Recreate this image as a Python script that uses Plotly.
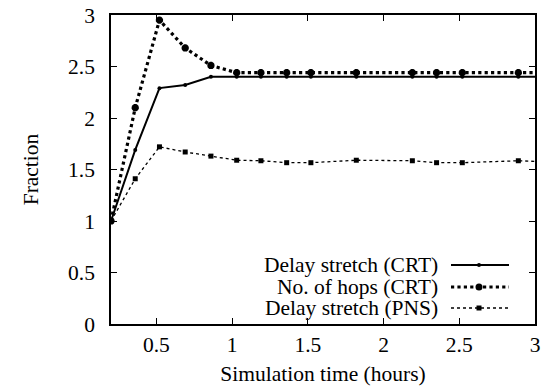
import plotly.graph_objects as go

# Data
time_h = [0.2, 0.36, 0.52, 0.69, 0.86, 1.03, 1.19, 1.36, 1.52, 1.82, 2.19, 2.35, 2.52, 2.89, 3.05]
delay_crt = [1.0, 1.69, 2.29, 2.32, 2.40, 2.40, 2.40, 2.40, 2.40, 2.40, 2.40, 2.40, 2.40, 2.40, 2.40]
hops_crt = [1.0, 2.10, 2.95, 2.68, 2.51, 2.44, 2.44, 2.44, 2.44, 2.44, 2.44, 2.44, 2.44, 2.44, 2.44]
delay_pns = [1.0, 1.41, 1.72, 1.67, 1.63, 1.59, 1.585, 1.566, 1.566, 1.59, 1.585, 1.566, 1.566, 1.585, 1.576]

series_names = ["Delay stretch (CRT)", "No. of hops (CRT)", "Delay stretch (PNS)"]
x_ticks = [0.5, 1, 1.5, 2, 2.5, 3]
x_tick_text = ["0.5", "1", "1.5", "2", "2.5", "3"]
y_ticks = [0, 0.5, 1, 1.5, 2, 2.5, 3]
y_tick_text = ["0", "0.5", "1", "1.5", "2", "2.5", "3"]

FONT = "Liberation Serif"
FS = 21.5
FS_KEY = 21.5
W, H = 545, 391
ML, MR, MT, MB = 111, 10, 15, 67
PW = W - ML - MR
PH = H - MT - MB

fig = go.Figure()
fig.add_trace(go.Scatter(x=time_h, y=delay_crt, mode="lines+markers", name=series_names[0],
                         line=dict(color="black", width=2),
                         marker=dict(symbol="circle", size=4, color="black"), showlegend=False))
fig.add_trace(go.Scatter(x=time_h, y=hops_crt, mode="lines+markers", name=series_names[1],
                         line=dict(color="black", width=3.2, dash="dot"),
                         marker=dict(symbol="asterisk-open", size=6, color="black",
                                     line=dict(color="black", width=2.5)), showlegend=False))
fig.add_trace(go.Scatter(x=time_h, y=delay_pns, mode="lines+markers", name=series_names[2],
                         line=dict(color="black", width=1.3, dash="dot"),
                         marker=dict(symbol="square", size=5, color="black"), showlegend=False))

# Manual gnuplot-style key: text right-aligned, sample to the right
def px2paper_x(px):
    return (px - ML) / PW

def px2paper_y(py):
    return (H - MB - py) / PH

rows = [265, 287, 308]
styles = [
    dict(width=2, dash="solid", msize=4, mshape="circle"),
    dict(width=3.2, dash="dot", msize=7, mshape="circle"),
    dict(width=1.3, dash="dot", msize=5, mshape="rect"),
]
shapes = []
annotations = []
for name, py, st in zip(series_names, rows, styles):
    annotations.append(dict(text=name, x=px2paper_x(439), y=px2paper_y(py), xref="paper", yref="paper",
                            xanchor="right", yanchor="middle", showarrow=False, borderpad=0,
                            font=dict(family=FONT, size=FS_KEY, color="black")))
    shapes.append(dict(type="line", xref="paper", yref="paper",
                       x0=px2paper_x(451), x1=px2paper_x(509), y0=px2paper_y(py), y1=px2paper_y(py),
                       line=dict(color="black", width=st["width"], dash=st["dash"])))
    r = st["msize"] / 2
    shapes.append(dict(type=st["mshape"], xref="paper", yref="paper",
                       x0=px2paper_x(479 - r), x1=px2paper_x(479 + r),
                       y0=px2paper_y(py + r), y1=px2paper_y(py - r),
                       fillcolor="black", line=dict(color="black", width=0)))

fig.update_layout(
    width=W, height=H,
    margin=dict(l=ML, r=MR, t=MT, b=MB),
    paper_bgcolor="white", plot_bgcolor="white",
    font=dict(family=FONT, size=FS, color="black"),
    shapes=shapes, annotations=annotations,
    xaxis=dict(range=[0.2, 3], tickvals=x_ticks, ticktext=x_tick_text, automargin=False,
               ticks="inside", ticklen=6, tickwidth=1, tickcolor="black",
               showline=True, linecolor="black", linewidth=1.5, mirror="ticks",
               showgrid=False, zeroline=False, ticklabelstandoff=0,
               tickfont=dict(family=FONT, size=FS),
               title=dict(text="Simulation time (hours)", font=dict(family=FONT, size=FS), standoff=10)),
    yaxis=dict(range=[0, 3], tickvals=y_ticks, ticktext=y_tick_text, automargin=False,
               ticks="inside", ticklen=6, tickwidth=1, tickcolor="black",
               showline=True, linecolor="black", linewidth=1.5, mirror="ticks",
               showgrid=False, zeroline=False, ticklabelstandoff=10,
               tickfont=dict(family=FONT, size=FS),
               title=dict(text="Fraction", font=dict(family=FONT, size=FS), standoff=24)),
)

fig.write_html("out.html")
